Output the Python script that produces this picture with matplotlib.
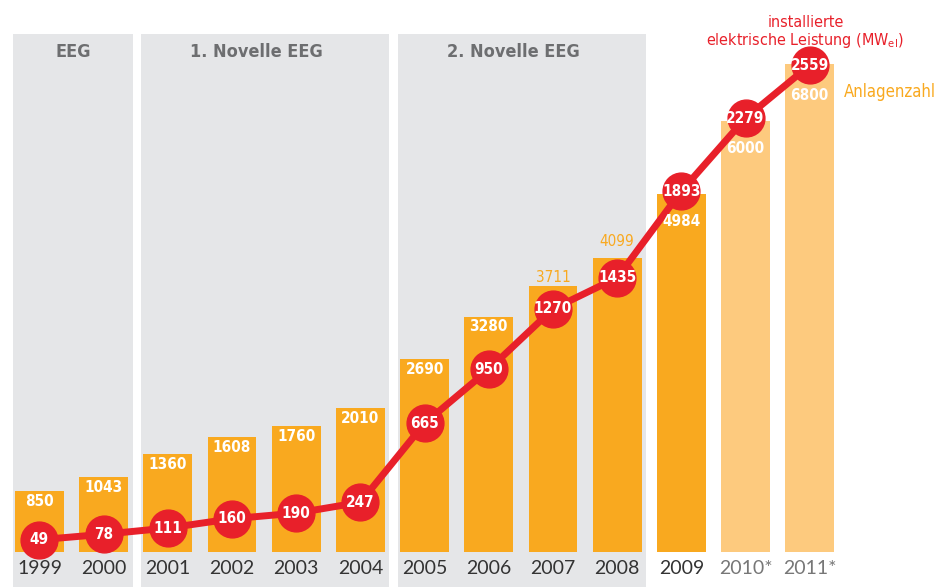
import matplotlib.pyplot as plt
import matplotlib.transforms as mtransforms

# data
years = ['1999', '2000', '2001', '2002', '2003', '2004', '2005',
         '2006', '2007', '2008', '2009', '2010*', '2011*']
anlagen = [850, 1043, 1360, 1608, 1760, 2010, 2690, 3280, 3711, 4099, 4984, 6000, 6800]
leistung = [49, 78, 111, 160, 190, 247, 665, 950, 1270, 1435, 1893, 2279, 2559]
estimated = [False] * 11 + [True, True]
phases = [('EEG', 0, 1), ('1. Novelle EEG', 2, 5), ('2. Novelle EEG', 6, 9)]

ORANGE = '#f9a91f'
LIGHT = '#fdca7e'
RED = '#e8202a'
GRAY = '#e5e6e8'
NUM = dict(family='DejaVu Sans', stretch='condensed')

fig = plt.figure(figsize=(9.49, 5.87), dpi=100)
ax = fig.add_axes([0, 0, 1, 1])
ax.set_xlim(-0.615, 14.17)
ax.set_ylim(-487, 7689)
ax.axis('off')
blend = mtransforms.blended_transform_factory(ax.transData, ax.transAxes)

# phase panels
for name, i0, i1 in phases:
    ax.axvspan(i0 - 0.42, i1 + 0.45, ymin=0, ymax=0.942, color=GRAY, lw=0, zorder=0)
    shift = 0.03 if i0 == 0 else -0.12
    ax.text((i0 + i1) / 2 + shift, 0.911, name, transform=blend, ha='center', va='center',
            fontsize=13, fontweight='bold', color='#6d6e70', **NUM)

x = list(range(len(years)))
colors = [LIGHT if e else ORANGE for e in estimated]
ax.bar(x, anlagen, width=0.76, color=colors, zorder=1)

for i, y in enumerate(years):
    ax.text(i, 0.032, y, transform=blend, ha='center', va='center', fontsize=14,
            color='#777777' if estimated[i] else '#333333', family='Lato')

# second scale for installed power
ax2 = fig.add_axes([0, 0, 1, 1], sharex=ax)
ax2.set_ylim(-201, 2904)
ax2.axis('off')
ax2.patch.set_alpha(0)
ax2.plot(x, leistung, color=RED, lw=5, marker='o', ms=26.5, mec=RED, mfc=RED, zorder=3)
for i, v in enumerate(leistung):
    ax2.text(i, v, str(v), ha='center', va='center', color='white', fontsize=11,
             fontweight='bold', zorder=4, **NUM)

# bar labels
for i, v in enumerate(anlagen):
    if i in (8, 9):
        off = 6 if i == 8 else 12
        ax.annotate(str(v), (i, v), xytext=(0, off), textcoords='offset points',
                    ha='center', va='center', color=ORANGE, fontsize=11, **NUM)
    elif i >= 10:
        ax2.annotate(str(v), (i, leistung[i]), xytext=(0, -22), textcoords='offset points',
                     ha='center', va='center', color='white', fontsize=11,
                     fontweight='bold', **NUM)
    else:
        ax.annotate(str(v), (i, v), xytext=(0, -7.5), textcoords='offset points',
                    ha='center', va='center', color='white', fontsize=11,
                    fontweight='bold', **NUM)

# legend-ish labels
fig.text(0.849, 0.9625, 'installierte', ha='center', va='center', color=RED,
         fontsize=11.5, **NUM)
fig.text(0.848, 0.931, r'elektrische Leistung (MW$_\mathregular{el}$)', ha='center',
         va='center', color=RED, fontsize=11.5, **NUM)
fig.text(0.889, 0.843, 'Anlagenzahl', ha='left', va='center', color=ORANGE,
         fontsize=12, **NUM)

fig.savefig('out.png', dpi=100)
